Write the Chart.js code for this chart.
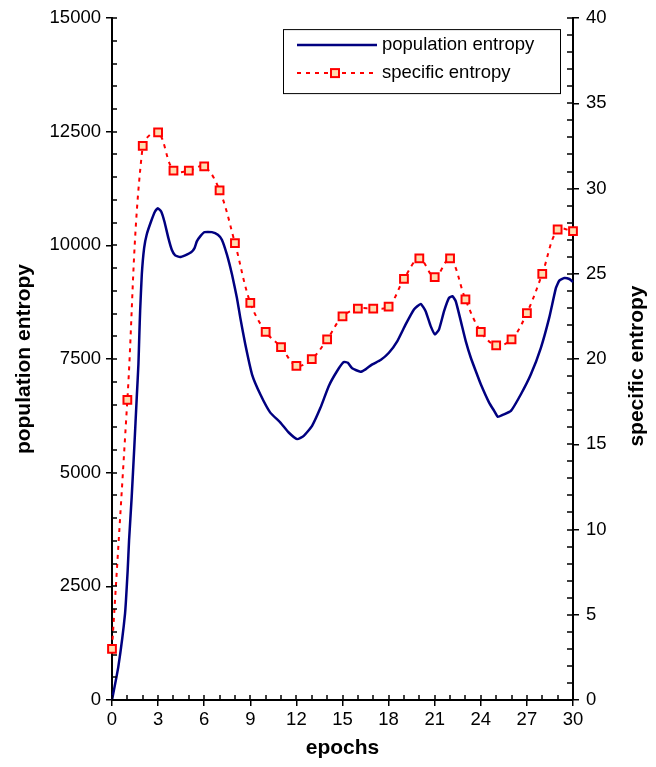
<!DOCTYPE html>
<html lang="en">
<head>
  <meta charset="UTF-8" />
  <title>Population and specific entropy per epoch</title>
  <script src="https://cdn.jsdelivr.net/npm/chart.js"></script>
  <style>
    html, body { margin: 0; padding: 0; background: #fff; }
    #wrap { width: 656px; height: 767px; }
  </style>
</head>
<body>
<div id="wrap"><canvas id="grafico"></canvas></div>

<script>
  // population entropy, sampled along the epoch axis
  const popEpochs = [0, 0.41, 0.85, 1.02, 1.11, 1.28, 1.45, 1.61, 1.72, 1.78, 1.83, 1.94, 2.09, 2.26, 2.54, 2.8, 2.98,
    3.2, 3.41, 3.67, 3.89, 4.11, 4.43, 4.76, 5.15, 5.37, 5.52, 5.74, 6.02, 6.5, 6.89, 7.15, 7.48, 7.81, 8.13, 8.35,
    8.67, 9.11, 9.65, 10.3, 10.96, 11.5, 12.05, 12.48, 13.02, 13.57, 14.11, 14.65, 15.08, 15.35, 15.63, 16.17, 16.5,
    16.94, 17.48, 18.02, 18.57, 19.11, 19.65, 20.09, 20.41, 20.74, 21.02, 21.28, 21.61, 21.93, 22.15, 22.37, 22.7,
    23.02, 23.35, 23.67, 24.0, 24.54, 24.87, 25.11, 25.43, 25.96, 26.61, 27.26, 27.91, 28.45, 28.89, 29.11, 29.43,
    29.76, 30];
  const popValues = [0, 730, 1908, 2851, 3509, 4458, 5555, 6651, 7390, 8048, 8553, 9364, 9941, 10241, 10526, 10746, 10818,
    10746, 10526, 10160, 9906, 9781, 9744, 9781, 9847, 9941, 10088, 10198, 10292, 10292, 10235, 10125, 9796, 9358, 8845, 8406,
    7829, 7165, 6726, 6322, 6103, 5884, 5739, 5811, 6031, 6432, 6908, 7237, 7434, 7419, 7296, 7222, 7274,
    7384, 7478, 7638, 7895, 8261, 8590, 8713, 8553, 8224, 8042, 8151, 8553, 8845, 8882, 8772, 8334,
    7895, 7529, 7237, 6945, 6542, 6360, 6228, 6272, 6360, 6726, 7165, 7748, 8406, 9064, 9226, 9283,
    9261, 9195];

  // specific entropy, one value per epoch
  const specEpochs = [0, 1, 2, 3, 4, 5, 6, 7, 8, 9, 10, 11, 12, 13, 14, 15, 16, 17, 18, 19, 20, 21, 22, 23, 24, 25, 26, 27, 28, 29, 30];
  const specValues = [3.0, 17.6, 32.5, 33.3, 31.05, 31.05, 31.3, 29.9, 26.8, 23.3, 21.6, 20.7, 19.6, 20.0, 21.15, 22.5,
    22.96, 22.96, 23.08, 24.7, 25.9, 24.8, 25.9, 23.5, 21.6, 20.8, 21.15, 22.7, 25.0, 27.6, 27.5];

  const seriesNames = ['population entropy', 'specific entropy'];
  const rightTitle = 'specific entropy';

  const fonte = 'Liberation Sans, Arial, sans-serif';
  const tickFont = { family: fonte, size: 18.5 };
  const titleFont = { family: fonte, size: 21, weight: 'bold' };
  const plain = v => String(v);

  // short inward ticks: every epoch, every 500 on the left, every 1 on the right
  const minorTicks = {
    id: 'minorTicks',
    afterDraw(chart) {
      const { ctx, chartArea: a, scales } = chart;
      ctx.save();
      ctx.strokeStyle = '#000';
      ctx.lineWidth = 1.5;
      ctx.beginPath();
      for (let v = 0; v <= 30; v += 1) {
        const x = Math.round(scales.x.getPixelForValue(v));
        ctx.moveTo(x, a.bottom); ctx.lineTo(x, a.bottom - 5);
      }
      for (let v = 0; v <= 15000; v += 500) {
        const y = Math.round(scales.y.getPixelForValue(v));
        ctx.moveTo(a.left, y); ctx.lineTo(a.left + 5, y);
      }
      for (let v = 0; v <= 40; v += 1) {
        const y = Math.round(scales.y1.getPixelForValue(v));
        ctx.moveTo(a.right, y); ctx.lineTo(a.right - 6, y);
      }
      ctx.stroke();

      // right axis title, reading bottom to top like the left one
      ctx.translate(637, (a.top + a.bottom) / 2 + 7);
      ctx.rotate(-Math.PI / 2);
      ctx.font = 'bold 21px ' + fonte;
      ctx.fillStyle = '#000';
      ctx.textAlign = 'center';
      ctx.textBaseline = 'middle';
      ctx.fillText(rightTitle, 0, 0);
      ctx.restore();
    }
  };

  // boxed legend inside the plot, upper right
  const legendaCaixa = {
    id: 'legendaCaixa',
    afterDraw(chart) {
      const { ctx, chartArea: a } = chart;
      const bx = a.right - 290, by = a.top + 11, bw = 277, bh = 64;
      ctx.save();
      ctx.fillStyle = '#fff';
      ctx.fillRect(bx, by, bw, bh);
      ctx.strokeStyle = '#000';
      ctx.lineWidth = 1;
      ctx.strokeRect(bx + 0.5, by + 0.5, bw, bh);
      ctx.font = '18.5px ' + fonte;
      ctx.fillStyle = '#000';
      ctx.textBaseline = 'middle';
      chart.data.datasets.forEach((ds, i) => {
        const y = by + 16 + i * 28;
        ctx.save();
        ctx.strokeStyle = ds.borderColor;
        ctx.lineWidth = ds.borderWidth;
        ctx.setLineDash(ds.borderDash || []);
        ctx.beginPath();
        ctx.moveTo(bx + 14, y); ctx.lineTo(bx + 94, y);
        ctx.stroke();
        if (ds.pointRadius > 0) {
          ctx.setLineDash([]);
          ctx.fillStyle = '#fff';
          ctx.fillRect(bx + 46, y - 6, 12, 12);
          ctx.fillStyle = ds.pointBackgroundColor;
          ctx.strokeStyle = ds.pointBorderColor;
          ctx.lineWidth = ds.pointBorderWidth;
          ctx.fillRect(bx + 48, y - 4, 8, 8);
          ctx.strokeRect(bx + 48, y - 4, 8, 8);
        }
        ctx.restore();
        ctx.fillText(ds.label, bx + 99, y);
      });
      ctx.restore();
    }
  };

  new Chart(document.getElementById('grafico').getContext('2d'), {
    type: 'line',
    data: {
      datasets: [
        {
          label: seriesNames[0],
          data: popEpochs.map((e, i) => ({ x: e, y: popValues[i] })),
          yAxisID: 'y',
          borderColor: '#000080',
          borderWidth: 2.5,
          pointRadius: 0,
          tension: 0.15,
          clip: false
        },
        {
          label: seriesNames[1],
          data: specEpochs.map((e, i) => ({ x: e, y: specValues[i] })),
          yAxisID: 'y1',
          borderColor: '#ff0000',
          borderWidth: 2,
          borderDash: [4, 5],
          pointStyle: 'rect',
          pointRadius: 5.5,
          pointBorderWidth: 2,
          pointBorderColor: '#ff0000',
          pointBackgroundColor: '#ffdcb0',
          tension: 0.35,
          clip: false
        }
      ]
    },
    options: {
      responsive: true,
      maintainAspectRatio: false,
      animation: false,
      layout: { padding: { top: 16, left: 0, right: 0, bottom: 0 } },
      plugins: {
        legend: { display: false },
        tooltip: { enabled: false }
      },
      scales: {
        x: {
          type: 'linear',
          min: 0, max: 30,
          afterFit: s => { s.height = 67; },
          border: { color: '#000', width: 2 },
          grid: { drawOnChartArea: false, tickLength: 6, color: '#000', lineWidth: 1.5 },
          ticks: { stepSize: 3, autoSkip: false, maxRotation: 0, color: '#000', font: tickFont, padding: 3, callback: plain },
          title: { display: true, text: 'epochs', color: '#000', font: titleFont, padding: { top: 0, bottom: 6 } }
        },
        y: {
          position: 'left',
          min: 0, max: 15000,
          afterFit: s => { s.width = 112; },
          border: { color: '#000', width: 2 },
          grid: { drawOnChartArea: false, tickLength: 6, color: '#000', lineWidth: 1.5 },
          ticks: { stepSize: 2500, color: '#000', font: tickFont, padding: 5, callback: plain },
          title: { display: true, text: 'population entropy', color: '#000', font: titleFont, padding: { top: 12, bottom: 0 } }
        },
        y1: {
          position: 'right',
          min: 0, max: 40,
          afterFit: s => { s.width = 83; },
          border: { color: '#000', width: 2 },
          grid: { drawOnChartArea: false, tickLength: 6, color: '#000', lineWidth: 1.5 },
          ticks: { stepSize: 5, color: '#000', font: tickFont, padding: 7, callback: plain },
          title: { display: false }
        }
      }
    },
    plugins: [minorTicks, legendaCaixa]
  });
</script>

</body>
</html>
